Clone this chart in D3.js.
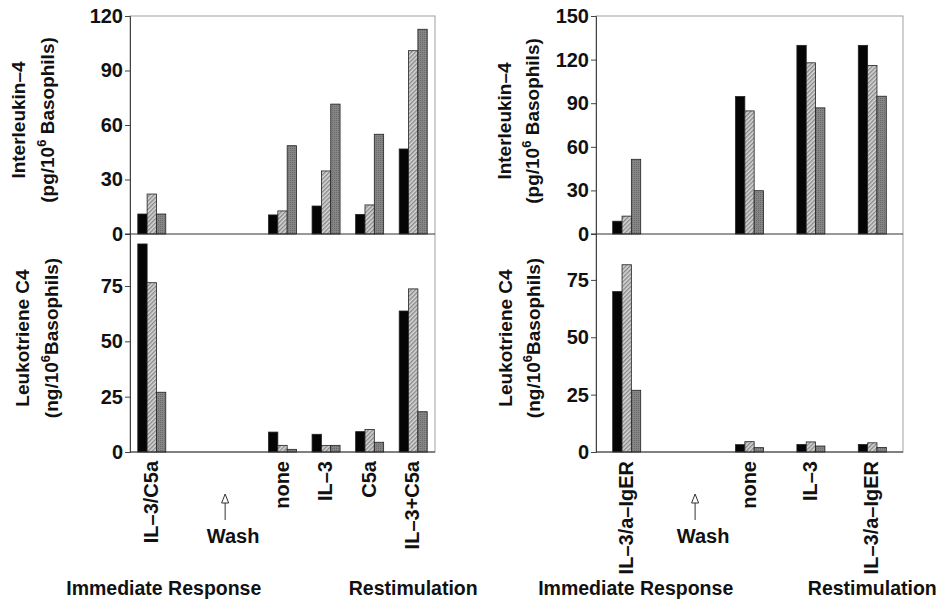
<!DOCTYPE html>
<html>
<head>
<meta charset="utf-8">
<script src="https://cdn.jsdelivr.net/npm/d3@7"></script>
<style>
  html, body { margin: 0; padding: 0; background: #fff; }
  svg { display: block; }
  text { font-family: "Liberation Sans", Arial, sans-serif; font-weight: bold; fill: #111; }
</style>
</head>
<body>
<svg id="chart" width="948" height="603"></svg>
<script>
// ---- Data ----------------------------------------------------------------
// Three bars per condition (solid, hatched, stippled series)
const leftCategories = ["IL\u20133/C5a", "none", "IL\u20133", "C5a", "IL\u20133+C5a"];
const leftIL4 = [
  [11, 22, 11],
  [10.5, 12.7, 48.6],
  [15.4, 34.7, 71.5],
  [10.8, 16, 54.9],
  [46.8, 100.9, 112.7]
];
const leftLTC4 = [
  [94, 76.5, 27],
  [9, 3, 1.2],
  [8, 2.9, 3],
  [9.2, 10.2, 4.4],
  [63.7, 73.7, 18.2]
];

const rightCategories = ["IL\u20133/a\u2013IgER", "none", "IL\u20133", "IL\u20133/a\u2013IgER "];
const rightIL4 = [
  [8.8, 12.3, 51.4],
  [94.6, 84.7, 29.8],
  [129.8, 117.8, 86.8],
  [129.8, 116, 94.8]
];
const rightLTC4 = [
  [69.9, 81.6, 26.9],
  [3.2, 4.5, 1.9],
  [3.3, 4.4, 2.6],
  [3.3, 4, 2]
];

const il4TicksLeft = [0, 30, 60, 90, 120];
const il4TicksRight = [0, 30, 60, 90, 120, 150];
const ltc4Ticks = [0, 25, 50, 75];

// ---- Setup ---------------------------------------------------------------
const svg = d3.select("#chart");
const defs = svg.append("defs");

defs.append("pattern")
  .attr("id", "hatch")
  .attr("patternUnits", "userSpaceOnUse")
  .attr("width", 3).attr("height", 3)
  .attr("patternTransform", "rotate(45)")
  .call(p => {
    p.append("rect").attr("width", 3).attr("height", 3).attr("fill", "#d8d8d8");
    p.append("line").attr("x1", 0.8).attr("y1", 0).attr("x2", 0.8).attr("y2", 3)
      .attr("stroke", "#5a5a5a").attr("stroke-width", 0.9);
  });

defs.append("pattern")
  .attr("id", "stipple")
  .attr("patternUnits", "userSpaceOnUse")
  .attr("width", 2).attr("height", 2)
  .call(p => {
    p.append("rect").attr("width", 2).attr("height", 2).attr("fill", "#858585");
    p.append("rect").attr("width", 1).attr("height", 1).attr("fill", "#6a6a6a");
  });

const seriesFill = ["#050505", "url(#hatch)", "url(#stipple)"];

const topY0 = 16, midY = 234, botY = 452;

// Draw one column of two stacked panels
function drawColumn(opt) {
  const { x0, x1, categories, il4, ltc4, il4Max, il4Ticks, ltc4Max, gapSlots } = opt;
  const g = svg.append("g");

  // Slot domain: first condition, wash gap slots, then the restimulation conditions
  const domain = [categories[0]];
  for (let i = 0; i < gapSlots; i++) domain.push("__gap" + i);
  domain.push(...categories.slice(1));

  const x = d3.scaleBand().domain(domain).range([x0, x1]).padding(0);
  const inner = d3.scaleBand().domain([0, 1, 2]).range([-14, 14]).padding(0);
  const cx = c => x(c) + x.bandwidth() / 2;

  const yTop = d3.scaleLinear().domain([0, il4Max]).range([midY, topY0]);
  const yBot = d3.scaleLinear().domain([0, ltc4Max]).range([botY, midY]);

  // Frame
  g.append("rect")
    .attr("x", x0).attr("y", topY0)
    .attr("width", x1 - x0).attr("height", botY - topY0)
    .attr("fill", "none").attr("stroke", "#a0a0a0").attr("stroke-width", 1);

  // Bars
  function bars(data, y) {
    categories.forEach((c, i) => {
      data[i].forEach((v, s) => {
        g.append("rect")
          .attr("x", cx(c) + inner(s))
          .attr("y", y(v))
          .attr("width", inner.bandwidth())
          .attr("height", y(0) - y(v))
          .attr("fill", seriesFill[s])
          .attr("stroke", "#222")
          .attr("stroke-width", 0.8);
      });
    });
  }
  bars(il4, yTop);
  bars(ltc4, yBot);

  // Axes
  const axTop = d3.axisLeft(yTop).tickValues(il4Ticks).tickSize(5).tickPadding(2);
  const axBot = d3.axisLeft(yBot).tickValues(ltc4Ticks).tickSize(5).tickPadding(2);
  [axTop, axBot].forEach(ax => {
    const a = g.append("g").attr("transform", `translate(${x0},0)`).call(ax);
    a.select(".domain").attr("stroke", "#444");
    a.selectAll(".tick line").attr("stroke", "#444");
    a.selectAll(".tick text")
      .attr("font-size", 20).attr("font-family", "Liberation Sans, Arial, sans-serif")
      .attr("font-weight", "bold").attr("fill", "#111");
  });

  // Zero lines
  g.append("line").attr("x1", x0 - 5).attr("x2", x1).attr("y1", midY).attr("y2", midY)
    .attr("stroke", "#333").attr("stroke-width", 1.2);
  g.append("line").attr("x1", x0).attr("x2", x1).attr("y1", botY).attr("y2", botY)
    .attr("stroke", "#333").attr("stroke-width", 1.2);

  // Category labels (rotated)
  categories.forEach(c => {
    g.append("text")
      .attr("transform", `translate(${cx(c) + 6},461) rotate(-90)`)
      .attr("text-anchor", "end")
      .attr("font-size", 20)
      .text(c.trim());
  });

  // Wash step
  const mid = (cx(categories[0]) + cx(categories[1])) / 2;
  const ax = mid + opt.washDx;
  g.append("line").attr("x1", ax).attr("x2", ax).attr("y1", 498).attr("y2", 520)
    .attr("stroke", "#333").attr("stroke-width", 1);
  g.append("path")
    .attr("d", `M${ax - 3.5},${503} L${ax},${494} L${ax + 3.5},${503} Z`)
    .attr("fill", "#fff").attr("stroke", "#333").attr("stroke-width", 1);
  g.append("text").attr("x", ax + 8).attr("y", 543).attr("text-anchor", "middle")
    .attr("font-size", 20).attr("font-weight", "normal").text("Wash");

  // Bottom captions
  g.append("text").attr("x", cx(categories[0]) + opt.immDx).attr("y", 595)
    .attr("text-anchor", "middle").attr("font-size", 19.5).text("Immediate Response");
  g.append("text").attr("x", cx(categories[categories.length - 1])).attr("y", 595)
    .attr("text-anchor", "middle").attr("font-size", 19.5).text("Restimulation");

  // Y titles
  function yTitle(cy, b1, b2, l1, unit, sep) {
    g.append("text")
      .attr("transform", `translate(${b1},${cy}) rotate(-90)`)
      .attr("text-anchor", "middle").attr("font-size", 19).text(l1);
    const t = g.append("text")
      .attr("transform", `translate(${b2},${cy}) rotate(-90)`)
      .attr("text-anchor", "middle").attr("font-size", 19);
    t.append("tspan").text(`(${unit}/10`);
    t.append("tspan").attr("font-size", 13).attr("dy", -8).text("6");
    t.append("tspan").attr("dy", 8).text(`${sep}Basophils)`);
  }
  yTitle(opt.titleTopCy, x0 - opt.t1, x0 - opt.t2, "Interleukin\u20134", "pg", " ");
  yTitle(opt.titleBotCy, x0 - opt.t1 + opt.botShift, x0 - opt.t2 + opt.botShift, "Leukotriene C4", "ng", "");
}

drawColumn({
  x0: 130, x1: 435,
  categories: leftCategories, il4: leftIL4, ltc4: leftLTC4,
  il4Max: 120, il4Ticks: il4TicksLeft, ltc4Max: 98.5,
  gapSlots: 2, washDx: 8, immDx: 12,
  t1: 105, t2: 76, botShift: 4,
  titleTopCy: 120, titleBotCy: 338
});

drawColumn({
  x0: 596, x1: 903,
  categories: rightCategories, il4: rightIL4, ltc4: rightLTC4,
  il4Max: 150, il4Ticks: il4TicksRight, ltc4Max: 95,
  gapSlots: 1, washDx: 7, immDx: 9,
  t1: 85, t2: 57, botShift: 1,
  titleTopCy: 121, titleBotCy: 338
});
</script>
</body>
</html>
